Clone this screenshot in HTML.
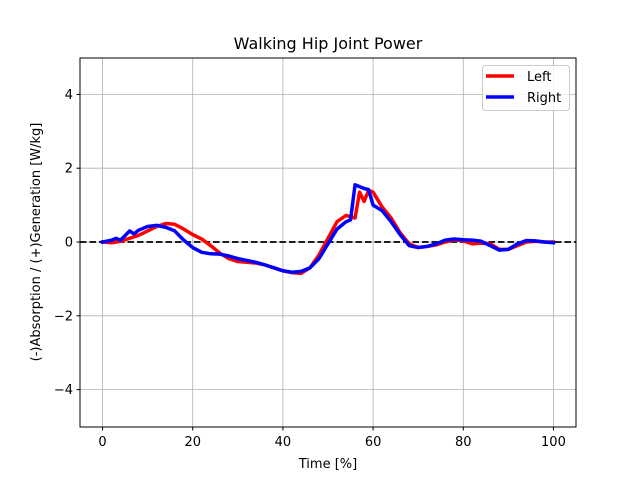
<!DOCTYPE html>
<html><head><meta charset="utf-8"><style>
html,body{margin:0;padding:0;background:#fff}
svg{display:block;font-family:"DejaVu Sans","Liberation Sans",sans-serif}
</style></head><body>
<svg id="chart" width="640" height="480">
<text x="328" y="49" text-anchor="middle" font-size="16">Walking Hip Joint Power</text>
<g id="grid"></g>
<g id="marks"></g>
<rect x="80" y="58" width="496" height="369" fill="none" stroke="#000" stroke-width="1"/>
<g id="ticks"></g>
<text x="328" y="468" text-anchor="middle" font-size="13">Time [%]</text>
<text transform="translate(40,242) rotate(-90)" text-anchor="middle" font-size="13">(-)Absorption / (+)Generation [W/kg]</text>
<g>
<rect x="482.5" y="65.5" width="87" height="45" rx="3" fill="#fff" fill-opacity="0.8" stroke="#ccc"/>
<line x1="486" y1="76" x2="514" y2="76" stroke="red" stroke-width="3.5"/>
<text x="527" y="81" font-size="13">Left</text>
<line x1="486" y1="97" x2="514" y2="97" stroke="blue" stroke-width="3.5"/>
<text x="527" y="102" font-size="13">Right</text>
</g>
</svg>
<script>
const leftX=[0,2,4,6,8,10,12,14,16,18,20,22,24,26,28,30,32,34,36,38,40,42,44,46,48,50,52,54,56,57,58,59,60,62,64,66,68,70,72,74,76,78,80,82,84,86,88,90,92,94,96,98,100];
const leftY=[0,-0.02,0.02,0.1,0.18,0.3,0.42,0.5,0.48,0.35,0.2,0.08,-0.1,-0.3,-0.45,-0.53,-0.55,-0.57,-0.62,-0.7,-0.78,-0.83,-0.85,-0.7,-0.35,0.1,0.55,0.72,0.65,1.35,1.1,1.4,1.35,0.95,0.65,0.25,-0.05,-0.15,-0.12,-0.08,0,0.06,0.03,-0.05,-0.03,-0.05,-0.2,-0.2,-0.1,0,0.02,0,0];
const rightX=[0,2,3,4,6,7,8,10,12,14,16,18,20,22,24,26,28,30,32,34,36,38,40,42,44,46,48,50,52,54,55,56,58,59,60,62,64,66,68,70,72,74,76,78,80,82,84,86,88,90,92,94,96,98,100];
const rightY=[0,0.05,0.1,0.05,0.3,0.22,0.32,0.42,0.45,0.4,0.3,0.05,-0.15,-0.28,-0.32,-0.33,-0.38,-0.45,-0.5,-0.55,-0.62,-0.7,-0.78,-0.82,-0.8,-0.7,-0.45,-0.05,0.35,0.55,0.6,1.55,1.45,1.42,1.0,0.85,0.55,0.2,-0.1,-0.15,-0.12,-0.05,0.05,0.08,0.06,0.05,0.02,-0.1,-0.22,-0.2,-0.05,0.04,0.03,0,-0.02];
const xTicks=[0,20,40,60,80,100];
const yTicks=[-4,-2,0,2,4];
const NS="http://www.w3.org/2000/svg";
const sx=v=>80+(v+5)/110*496;
const sy=v=>242-v*36.9;
function mk(tag,attrs,parent){const e=document.createElementNS(NS,tag);for(const k in attrs)e.setAttribute(k,attrs[k]);parent.appendChild(e);return e;}
const grid=document.getElementById('grid'),ticks=document.getElementById('ticks'),marks=document.getElementById('marks');
xTicks.forEach(t=>{
 const g=mk('line',{x1:sx(t),x2:sx(t),y1:58,y2:427,stroke:'#b0b0b0','stroke-width':0.8},grid);
 
 
 mk('line',{x1:sx(t),x2:sx(t),y1:427,y2:430.5,stroke:'#000'},ticks);
 const l=mk('text',{x:sx(t),y:446,'text-anchor':'middle','font-size':13},ticks);l.textContent=t;
 
 
});
yTicks.forEach(t=>{
 const g=mk('line',{x1:80,x2:576,y1:sy(t),y2:sy(t),stroke:'#b0b0b0','stroke-width':0.8},grid);
 
 
 mk('line',{x1:76.5,x2:80,y1:sy(t),y2:sy(t),stroke:'#000'},ticks);
 const l=mk('text',{x:73,y:sy(t)+4.5,'text-anchor':'end','font-size':13},ticks);l.textContent=(t<0?'\u2212'+(-t):t);
 
 
});
const zl=mk('line',{x1:80,x2:576,y1:sy(0),y2:sy(0),stroke:'#000','stroke-width':1.8,'stroke-dasharray':'6.5,3'},marks);


function series(xs,ys,color,name){
 const p=mk('polyline',{points:xs.map((x,i)=>sx(x)+','+sy(ys[i])).join(' '),fill:'none',stroke:color,'stroke-width':3.5,'stroke-linejoin':'round','stroke-linecap':'square'},marks);
 
 
}
series(leftX,leftY,'red','left-series');
series(rightX,rightY,'blue','right-series');
</script>
</body></html>
